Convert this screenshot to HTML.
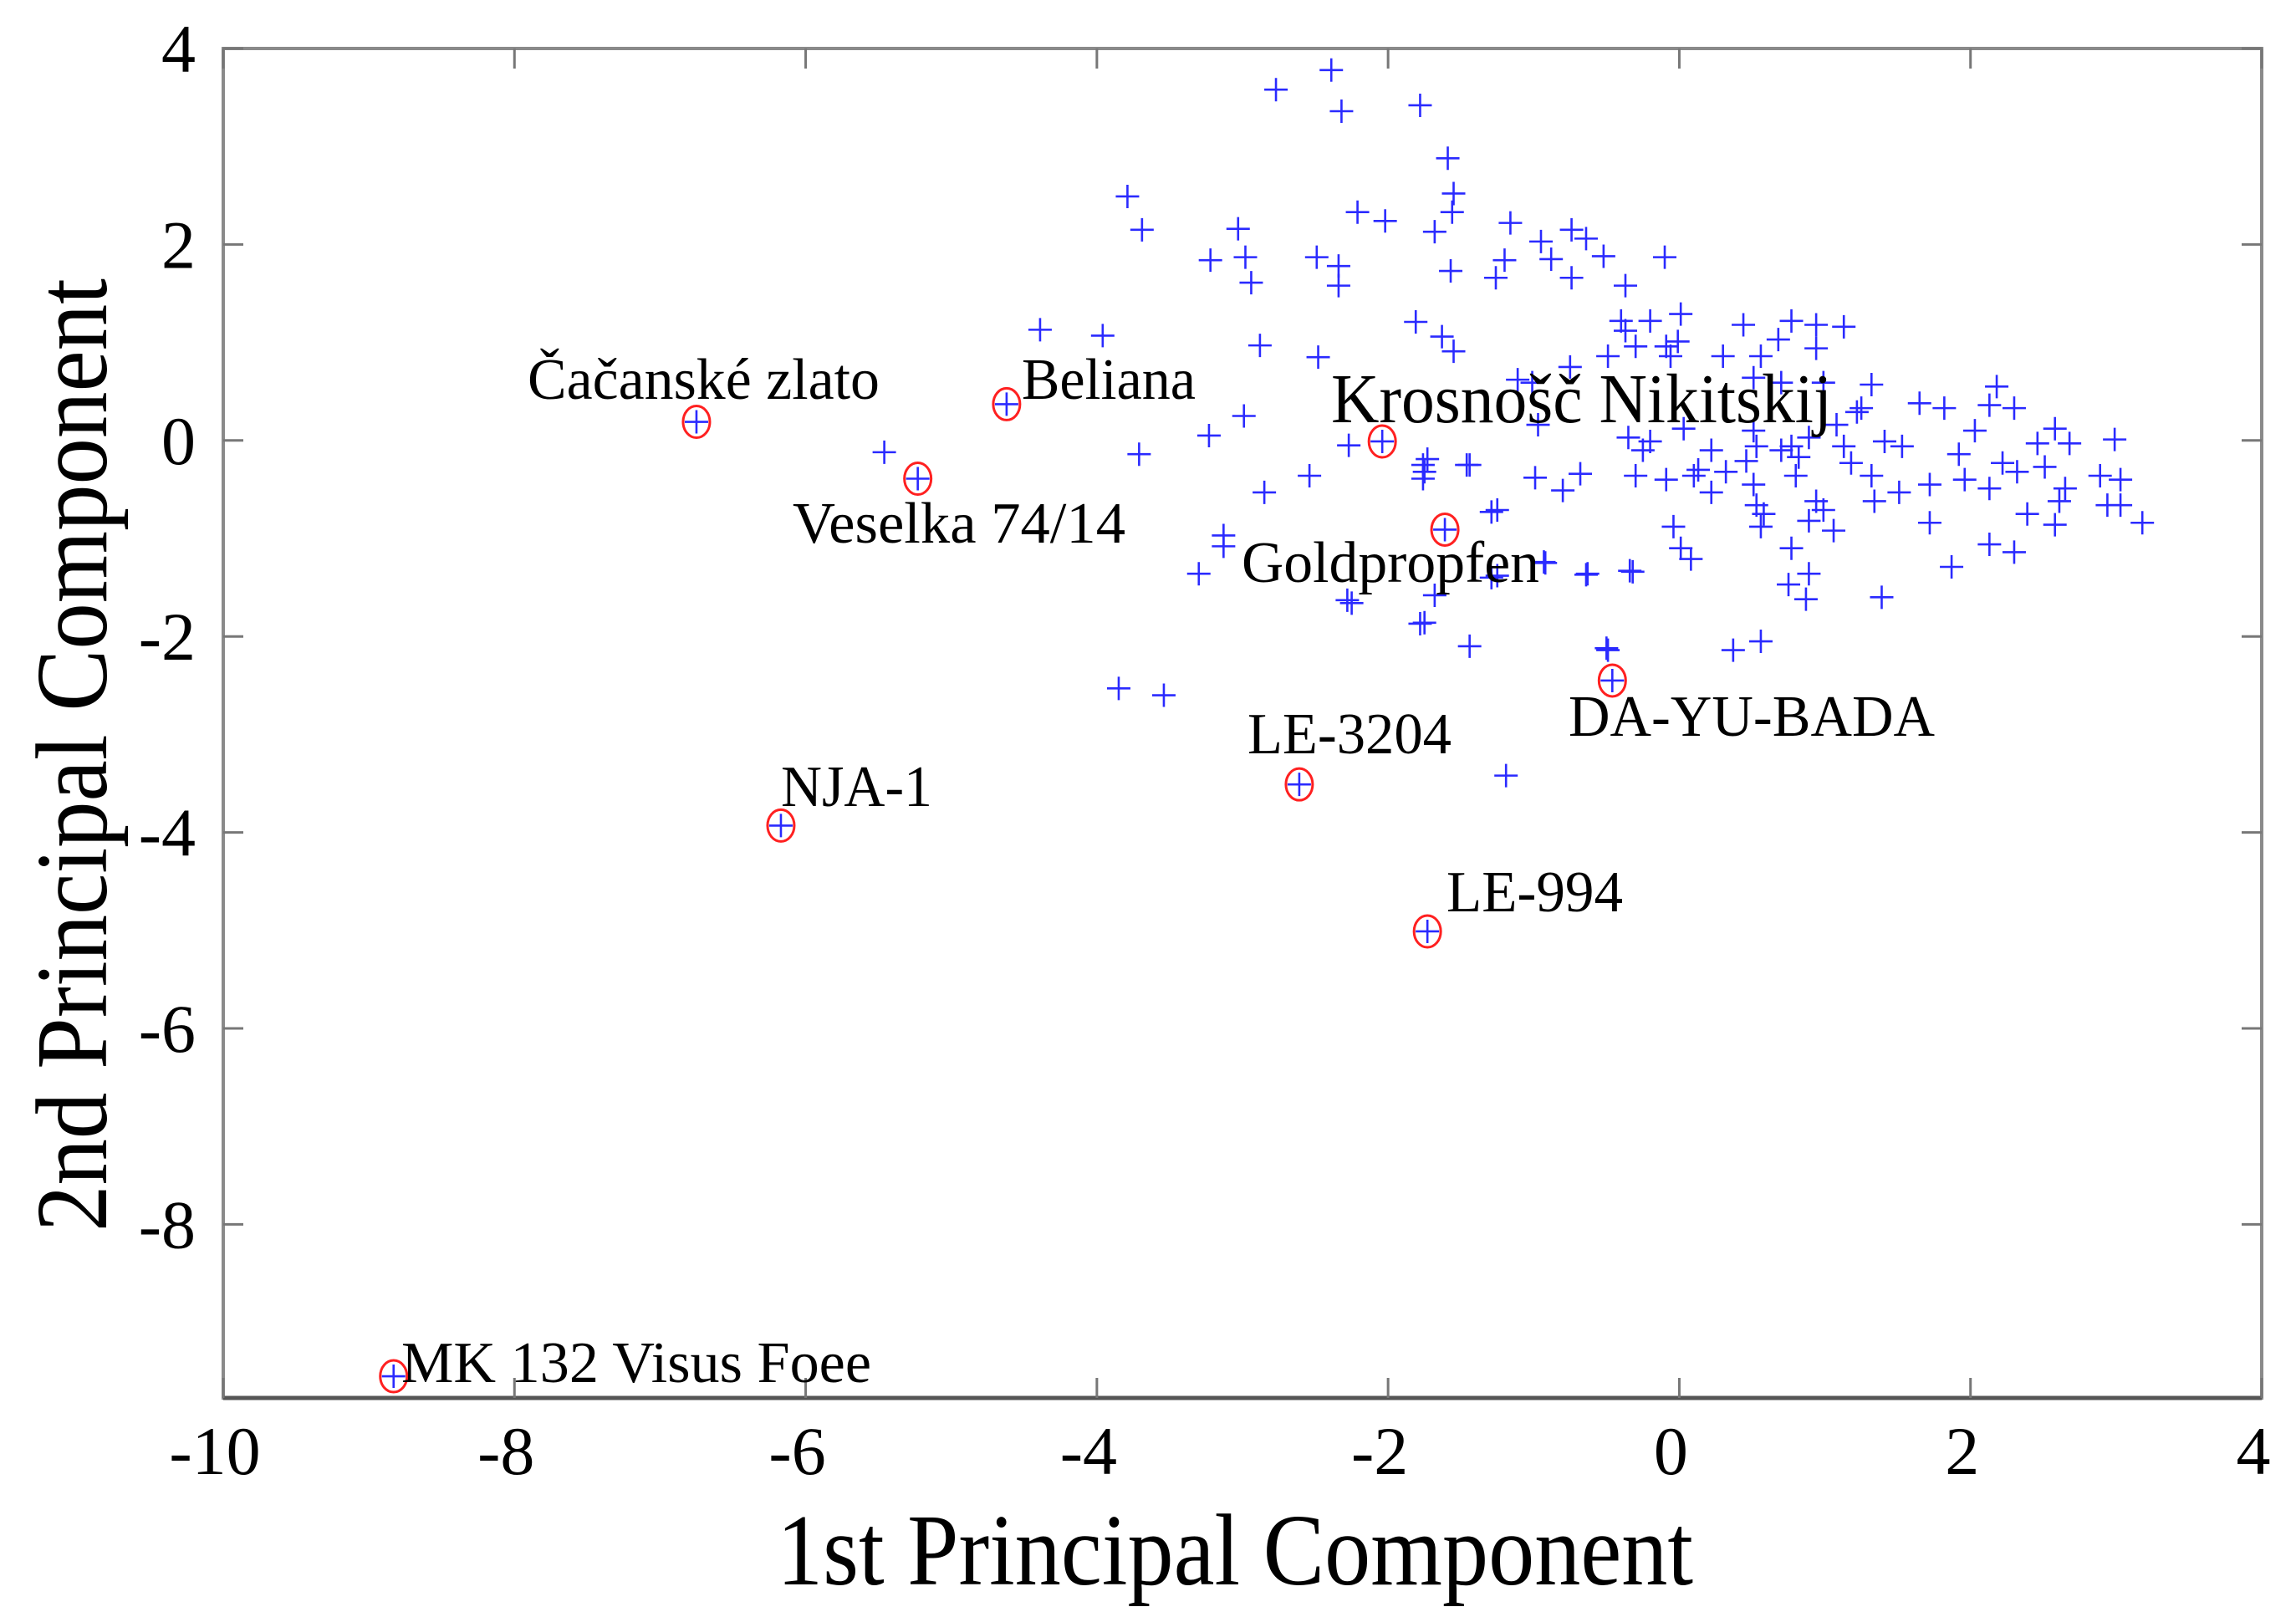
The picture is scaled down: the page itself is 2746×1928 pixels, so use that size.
<!DOCTYPE html>
<html><head><meta charset="utf-8"><style>
html,body{margin:0;padding:0;background:#fff}
svg{display:block}
text{font-family:"Liberation Serif",serif;fill:#000}
</style></head><body>
<svg id="chart" width="2746" height="1928" viewBox="0 0 2746 1928" xmlns="http://www.w3.org/2000/svg">
<g id="plot"></g>
</svg>
<script>
const xTicks=[-10,-8,-6,-4,-2,0,2,4];
const yTicks=[4,2,0,-2,-4,-6,-8];
const xs=[-2.77,-2.39,-2.32,-1.78,-1.59,-1.55,-1.56,-3.79,-3.69,-3.03,-2.21,-2.02,-1.68,-1.57,-1.16,-0.95,-0.74,-0.64,-0.52,-0.10,-1.20,-1.26,-0.88,-0.74,-0.37,-3.22,-2.98,-2.94,-2.49,-2.34,-2.34,-4.39,-3.96,-2.88,-2.48,-1.81,-1.63,-1.55,-5.46,-1.29,-1.29,-0.93,-0.64,-0.34,-2.28,-1.78,-0.50,-1.19,-2.27,-1.76,-1.76,-1.46,
-0.40,-0.20,0.01,-0.37,-0.30,-0.09,-0.01,-0.49,-0.06,-0.75,0.30,0.56,0.44,0.77,0.94,1.13,0.68,0.94,-1.11,-1.01,0.51,0.70,0.99,1.32,1.22,1.65,1.82,2.18,2.13,2.30,2.58,2.99,2.68,2.46,2.03,1.92,2.22,2.32,2.51,2.65,2.61,2.89,3.03,2.94,3.18,3.03,2.58,2.39,2.13,2.30,1.87,1.72,1.72,1.96,2.13,1.51,1.34,1.32,1.41,1.53,1.08,1.25,0.89,0.77,0.82,0.70,0.51,0.53,0.46,0.80,1.18,1.13,0.94,0.99,1.06,0.89,0.77,0.89,0.75,0.87,1.39,0.51,0.53,0.58,0.56,0.22,0.13,0.32,0.03,0.22,0.10,-0.09,-0.04,0.01,0.08,-0.30,-0.25,-0.20,-0.35,-0.97,-0.99,-0.80,-0.68,-0.63,-0.32,-0.92,-1.25,-1.68,-1.75,-1.44,-2.25,-1.73,-1.75,-1.44,-2.54,-2.85,-3.23,-2.99,-3.71,-3.13,-3.13,-3.30,-1.25,0.37,0.56,-0.49,-3.85,-3.54];
const ys=[3.58,3.78,3.36,3.42,2.88,2.52,2.33,2.49,2.15,2.16,2.33,2.24,2.13,1.73,2.22,2.03,2.15,2.06,1.88,1.87,1.84,1.66,1.85,1.66,1.58,1.84,1.87,1.61,1.87,1.78,1.58,1.13,1.07,0.97,0.85,1.21,1.06,0.91,-0.12,-0.73,-1.40,-1.24,-1.37,-1.33,-1.63,-1.87,-2.12,-3.42,-0.05,-0.25,-0.39,-0.25,
1.22,1.22,1.29,1.12,0.96,0.96,1.01,0.86,0.86,0.75,0.86,0.86,1.18,1.22,1.18,1.16,1.03,0.94,0.62,0.59,0.64,0.59,0.59,0.57,0.29,0.38,0.33,0.55,0.36,0.33,0.12,0.01,-0.03,-0.03,0.10,-0.14,-0.23,-0.32,-0.27,-0.49,-0.62,-0.36,-0.40,-0.66,-0.84,-0.66,-0.86,-0.75,-1.06,-1.14,-1.29,-0.84,-0.45,-0.40,-0.49,-0.53,-0.62,-0.36,-0.01,-0.06,0.16,0.33,0.03,-0.06,-0.17,-0.10,0.10,-0.06,-0.21,-0.36,-0.23,-0.06,-0.62,-0.71,-0.92,-0.82,-1.10,-1.36,-1.47,-1.62,-1.60,-0.45,-0.66,-0.75,-0.88,-0.10,-0.30,-0.32,0.12,-0.53,-0.36,-0.40,-0.88,-1.10,-1.21,-0.36,-0.10,-0.01,0.03,0.16,-0.38,-0.51,-0.34,-1.36,-1.34,-1.25,-1.38,-1.58,-1.86,-2.10,-1.66,-0.19,-0.32,-0.25,-0.36,-0.53,0.05,0.25,-0.14,-0.97,-1.08,-1.36,-0.71,-2.14,-2.05,-2.14,-2.53,-2.60];
const labelNames=["Čačanské zlato","Beliana","Veselka 74/14","Krosnošč Nikitskij","Goldpropfen","DA-YU-BADA","LE-3204","NJA-1","LE-994","MK 132 Visus Foee"];
const labelX=[-6.75,-4.62,-5.23,-2.04,-1.61,-0.46,-2.61,-6.17,-1.73,-8.83];
const labelY=[0.19,0.37,-0.39,-0.01,-0.91,-2.45,-3.51,-3.93,-5.01,-9.55];
</script>
<script>
const NS="http://www.w3.org/2000/svg";
const svg=document.getElementById('chart');
const L=267,R=2705,T=58,B=1672;
const X=v=>L+(v+10)*(R-L)/14;
const Y=v=>T+(4-v)*117.2;
function mk(tag,attrs,parent){const e=document.createElementNS(NS,tag);for(const k in attrs)e.setAttribute(k,attrs[k]);(parent||svg).appendChild(e);return e;}
// frame
let f=mk('rect',{x:L,y:T,width:R-L,height:B-T,fill:'none',stroke:'#8a8a8a','stroke-width':4});


let bl=mk('line',{x1:L,y1:B,x2:R,y2:B,stroke:'#555','stroke-width':5});


xTicks.forEach(t=>{
  const x=X(t);
  let a=mk('line',{x1:x,y1:B,x2:x,y2:B-24,stroke:'#777','stroke-width':3});
  
  
  let b=mk('line',{x1:x,y1:T,x2:x,y2:T+24,stroke:'#777','stroke-width':3});
  
  
  let tx=mk('text',{x:x-10,y:1763,'font-size':82,'text-anchor':'middle'});
  tx.textContent=String(t);
  
  
});
yTicks.forEach(t=>{
  const y=Y(t);
  let a=mk('line',{x1:L,y1:y,x2:L+24,y2:y,stroke:'#777','stroke-width':3});
  
  
  let b=mk('line',{x1:R,y1:y,x2:R-24,y2:y,stroke:'#777','stroke-width':3});
  
  
  let tx=mk('text',{x:234,y:y+28,'font-size':82,'text-anchor':'end'});
  tx.textContent=String(t);
  
  
});
// points
const g=mk('g',{stroke:'#2a2aff','stroke-width':2.6,fill:'none'});


function plus(x,y,parent){const s=14;const p=mk('path',{d:`M${x-s},${y}H${x+s}M${x},${y-s}V${y+s}`},parent);return p;}
for(let i=0;i<xs.length;i++){
  const p=plus(X(xs[i]),Y(ys[i]),g);
  
  
}
// labelled points
const lx=[631,1222,948,1592,1485,1876,1492,934,1730,480];
const lb=[477,477,649,505,696,880,901,964,1090,1653];
const lw=[421,208,398,599,356,438,244,181,211,562];
for(let i=0;i<labelNames.length;i++){
  const cx=X(labelX[i]),cy=Y(labelY[i]);
  const gg=mk('g',{});
  
  
  const e=mk('ellipse',{cx:cx,cy:cy,rx:16,ry:19,fill:'none',stroke:'#ff2020','stroke-width':3},gg);
  
  
  const p=plus(cx,cy,gg);p.setAttribute('stroke','#2a2aff');p.setAttribute('stroke-width','2.6');
  
  
  const t=mk('text',{x:lx[i],y:lb[i],'font-size':i===3?84:70,textLength:lw[i],lengthAdjust:'spacingAndGlyphs'},gg);
  t.textContent=labelNames[i];
  
  
}
let xt=mk('text',{x:929,y:1895,'font-size':122,textLength:1096,lengthAdjust:'spacingAndGlyphs'});
xt.textContent='1st Principal Component';


let yt=mk('text',{x:0,y:0,'font-size':122,'text-anchor':'middle',textLength:1140,lengthAdjust:'spacingAndGlyphs',transform:'translate(127,903) rotate(-90)'});
yt.textContent='2nd Principal Component';


</script>
</body></html>
